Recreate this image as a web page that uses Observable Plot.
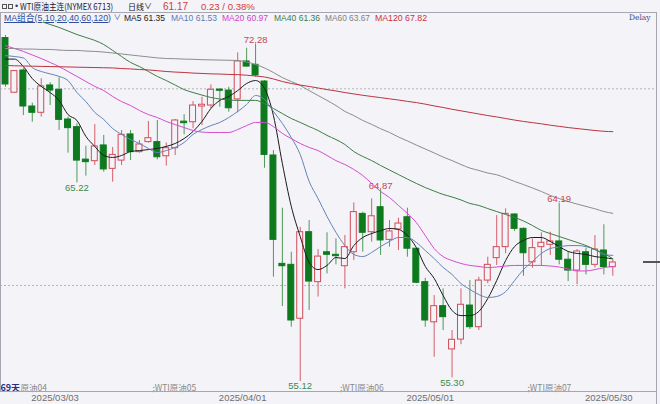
<!DOCTYPE html>
<html><head><meta charset="utf-8">
<script src="https://cdn.jsdelivr.net/npm/d3@7"></script>
<script src="https://cdn.jsdelivr.net/npm/@observablehq/plot@0.6"></script>
<style>
html,body{margin:0;padding:0;background:#f3f3f8;}
#wrap{position:relative;width:660px;height:404px;overflow:hidden;background:#f3f3f8;font-family:"Liberation Sans",Arial,"Noto Sans CJK SC",sans-serif;}
#wrap svg{position:absolute;left:0;top:0;}
.t{position:absolute;white-space:nowrap;line-height:10px;height:10px;}
</style></head><body><div id="wrap"></div>
<script>
// ---- data ----
const dates = ["2025/02/21","2025/02/24","2025/02/25","2025/02/26","2025/02/27","2025/02/28",
"2025/03/03","2025/03/04","2025/03/05","2025/03/06","2025/03/07","2025/03/10","2025/03/11","2025/03/12","2025/03/13","2025/03/14","2025/03/17","2025/03/18","2025/03/19","2025/03/20","2025/03/21","2025/03/24","2025/03/25","2025/03/26","2025/03/27","2025/03/28","2025/03/31",
"2025/04/01","2025/04/02","2025/04/03","2025/04/04","2025/04/07","2025/04/08","2025/04/09","2025/04/10","2025/04/11","2025/04/14","2025/04/15","2025/04/16","2025/04/17","2025/04/21","2025/04/22","2025/04/23","2025/04/24","2025/04/25","2025/04/28","2025/04/29","2025/04/30",
"2025/05/01","2025/05/02","2025/05/05","2025/05/06","2025/05/07","2025/05/08","2025/05/09","2025/05/12","2025/05/13","2025/05/14","2025/05/15","2025/05/16","2025/05/19","2025/05/20","2025/05/21","2025/05/22","2025/05/23","2025/05/27","2025/05/28","2025/05/29","2025/05/30"];

const open = [72.58,69.80,70.93,69.10,68.78,70.17,69.95,68.44,68.05,66.40,66.32,67.12,65.93,66.35,67.68,66.78,67.29,67.29,66.57,66.98,68.33,68.30,69.10,69.15,69.96,69.91,69.46,71.39,71.22,70.37,66.61,61.10,61.05,58.31,62.71,60.17,61.69,61.56,60.98,61.69,63.64,62.71,63.98,62.32,62.85,63.47,61.87,60.17,58.13,58.95,56.75,57.25,58.98,57.88,60.25,61.39,61.95,63.61,62.88,61.18,61.95,62.07,62.24,61.31,60.76,61.69,61.05,61.78,60.93];
const high = [72.71,70.93,71.02,69.27,70.51,70.31,70.56,68.56,68.22,67.08,68.18,67.63,67.02,67.88,67.88,67.37,68.34,68.39,67.25,68.44,68.68,69.35,69.57,70.20,70.00,70.08,71.83,72.06,72.28,70.42,66.86,63.93,61.69,62.96,63.30,61.83,62.68,62.37,62.54,64.20,63.73,64.41,64.87,63.30,63.42,63.93,61.90,60.37,59.49,59.83,57.71,59.83,60.25,60.42,61.44,63.56,63.90,63.64,62.93,62.37,62.68,62.71,64.19,61.69,61.83,61.90,62.54,63.09,61.27];
const low = [70.08,69.79,68.64,68.30,68.56,69.15,67.88,66.73,65.22,65.56,66.10,65.76,65.25,66.10,66.35,66.73,67.24,66.39,66.07,66.61,67.66,67.97,68.13,68.98,69.06,68.81,68.78,71.10,70.59,65.96,60.42,58.93,57.88,55.12,58.73,59.41,60.59,61.05,59.83,61.27,61.69,62.20,61.53,61.95,61.78,61.44,60.09,57.88,56.35,57.71,55.30,56.99,57.76,57.71,60.09,61.02,61.61,62.75,60.47,60.88,60.98,61.53,61.05,60.20,60.04,60.54,60.88,60.54,60.47];
const close = [70.22,70.90,69.10,68.78,70.12,69.91,68.42,68.00,66.35,66.27,67.07,65.90,66.64,67.66,66.78,67.17,67.49,66.52,66.98,68.39,68.25,69.15,69.19,69.95,69.90,69.01,71.39,71.13,70.68,66.64,62.32,60.98,58.22,62.71,60.20,61.47,61.56,61.49,61.95,63.73,62.68,63.52,62.29,62.75,63.15,61.87,60.14,58.22,58.95,58.39,57.24,59.02,57.88,60.25,61.05,61.95,63.64,62.88,61.64,61.90,62.17,62.24,61.31,60.76,61.73,61.05,61.83,60.94,61.17];

const ma5 = [71.51,71.51,71.13,70.52,70.12,69.81,69.41,68.69,68.39,67.58,67.07,66.61,66.51,66.61,66.81,66.86,66.91,66.97,67.07,67.22,67.47,67.83,68.34,69.00,69.41,69.61,69.91,70.27,70.42,70.02,68.64,66.20,64.02,62.49,61.17,60.81,61.02,61.42,61.37,62.03,62.44,62.64,62.79,62.90,62.85,62.54,61.93,60.97,60.36,59.49,58.73,58.47,58.47,58.68,59.34,60.25,61.27,61.98,62.29,62.44,62.44,62.24,61.98,61.73,61.63,61.58,61.47,61.42,61.35];
const ma10 = [71.69,71.64,71.57,71.08,70.88,70.76,70.63,70.42,69.81,69.35,68.80,68.44,67.98,67.68,67.42,67.22,66.97,66.76,66.86,67.02,67.27,67.68,67.93,68.13,68.29,68.54,68.85,69.20,69.66,69.46,68.85,68.24,67.52,66.66,65.29,64.42,63.51,62.70,62.03,61.58,61.47,61.68,61.98,62.24,62.44,62.44,62.19,61.78,61.37,60.92,60.56,60.10,59.80,59.54,59.39,59.44,59.69,60.25,60.81,61.22,61.63,61.88,61.96,62.03,62.03,61.98,61.83,61.58,61.53];
const ma20 = [72.20,72.05,71.90,71.72,71.54,71.34,71.13,70.88,70.63,70.37,70.12,69.91,69.61,69.35,69.15,68.90,68.69,68.54,68.34,68.18,68.03,67.88,67.80,67.78,67.78,67.78,67.93,68.13,68.29,68.29,68.08,67.73,67.47,67.22,67.02,66.86,66.61,66.35,66.15,65.90,65.59,65.19,64.78,64.47,64.07,63.66,63.20,62.54,61.88,61.47,61.27,61.12,61.02,60.97,60.91,60.94,60.99,61.02,61.02,61.02,61.02,60.99,60.94,60.84,60.74,60.74,60.81,60.91,60.97];
const ma40 = [74.08,73.93,73.78,73.60,73.42,73.27,73.12,72.94,72.76,72.61,72.46,72.25,71.95,71.64,71.34,71.13,70.88,70.63,70.42,70.19,69.96,69.81,69.68,69.56,69.48,69.43,69.41,69.41,69.41,69.25,69.00,68.74,68.49,68.29,68.08,67.88,67.63,67.42,67.17,66.81,66.56,66.35,66.10,65.87,65.64,65.41,65.19,64.98,64.80,64.63,64.50,64.35,64.17,64.07,63.91,63.76,63.61,63.46,63.28,63.05,62.80,62.64,62.49,62.34,62.19,62.03,61.83,61.63,61.36];
const ma60 = [72.05,72.05,72.02,72.02,72.00,72.00,71.97,71.95,71.95,71.92,71.90,71.87,71.82,71.77,71.72,71.67,71.62,71.57,71.54,71.53,71.51,71.50,71.48,71.47,71.46,71.45,71.44,71.36,71.24,71.06,70.83,70.57,70.37,70.17,69.91,69.66,69.41,69.15,68.85,68.64,68.39,68.19,67.97,67.78,67.55,67.35,67.14,66.94,66.74,66.53,66.35,66.15,65.97,65.85,65.72,65.63,65.47,65.29,65.13,64.96,64.78,64.58,64.42,64.27,64.14,64.02,63.90,63.76,63.67];
const ma120 = [71.19,71.17,71.16,71.15,71.14,71.13,71.12,71.11,71.10,71.09,71.08,71.07,71.06,71.03,71.01,70.98,70.96,70.92,70.88,70.85,70.83,70.80,70.78,70.76,70.75,70.73,70.72,70.69,70.65,70.60,70.50,70.37,70.27,70.19,70.12,70.04,69.96,69.89,69.81,69.74,69.67,69.61,69.55,69.49,69.43,69.36,69.30,69.22,69.13,69.05,68.96,68.88,68.80,68.72,68.64,68.57,68.49,68.41,68.34,68.28,68.22,68.15,68.09,68.03,67.98,67.93,67.88,67.84,67.82];

const tickDates = ["2025/03/03","2025/04/01","2025/05/01","2025/05/30"];
const extremeDates = ["2025/03/05","2025/04/02","2025/04/09","2025/04/23","2025/05/05","2025/05/21"];
const extremeKinds = ["low","high","low","high","low","high"];
const rollDates = ["2025/03/17","2025/04/15","2025/05/15"];
const rollLabels = [";WTI原油05",";WTI原油06",";WTI原油07"];
const maNames = ["MA5","MA10","MA20","MA40","MA60","MA120"];
const maColors = ["#1c1c1c","#6683b6","#d64ccf","#3f7d45","#8d8d8d","#bb3440"];

// ---- build ----
const BG = "#f3f3f8", RED = "#d24b58", REDW = "#d55f69", GREEN = "#0e7a1e", GREENW = "#4e9a56";
const maArrays = [ma5, ma10, ma20, ma40, ma60, ma120];
const rows = dates.map((d, i) => ({date: d, open: open[i], high: high[i], low: low[i], close: close[i], up: close[i] >= open[i]}));
const maRows = maNames.map((name, k) => dates.map((d, i) => ({date: d, v: maArrays[k][i]})));
const extremes = extremeDates.map((d, k) => {
  const i = dates.indexOf(d);
  const kind = extremeKinds[k];
  return {date: d, kind, price: kind === "high" ? high[i] : low[i]};
});
const rolls = rollDates.map((d, k) => ({date: d, label: rollLabels[k]}));

const plot = Plot.plot({
  width: 660, height: 404,
  marginTop: 12, marginBottom: 13, marginLeft: 0, marginRight: 4,
  style: {background: BG, fontFamily: "Liberation Sans, Arial, Noto Sans CJK SC, sans-serif", overflow: "visible"},
  x: {type: "band", domain: dates, range: [0.535, 616.77], paddingInner: 0.22, paddingOuter: 0.11, align: 0.5, label: null},
  y: {domain: [54.611, 73.879], axis: null},
  color: {type: "identity"},
  marks: [
    Plot.ruleY([60, 70], {stroke: "#b4b4bf", strokeDasharray: "2,2", strokeWidth: 1}),
    Plot.ruleX(rows, {x: "date", y1: "low", y2: "high", stroke: d => d.up ? REDW : GREENW, strokeWidth: 1}),
    Plot.barY(rows, {x: "date", y1: d => Math.min(d.open, d.close), y2: d => Math.max(d.open, d.close),
      fill: d => d.up ? BG : GREEN, stroke: d => d.up ? RED : GREEN, strokeWidth: 1, insetLeft: 0.5, insetRight: 0.5}),
    ...maRows.map((data, k) => Plot.line(data, {x: "date", y: "v", stroke: maColors[k], strokeWidth: 1, curve: "monotone-x", clip: true})),
    Plot.text(extremes.filter(d => d.kind === "high"), {x: "date", y: "price", text: d => d.price.toFixed(2), lineAnchor: "bottom", dy: -1, fill: "#cc4452", fontSize: 9.5}),
    Plot.text(extremes.filter(d => d.kind === "low"), {x: "date", y: "price", text: d => d.price.toFixed(2), lineAnchor: "top", dy: 1, fill: "#3d8a4a", fontSize: 9.5}),
    Plot.text(rolls, {x: "date", text: "label", frameAnchor: "bottom", textAnchor: "start", lineAnchor: "bottom", dx: 4, dy: -1, fontSize: 8.5, fill: "#8a8a8a", fontFamily: "Noto Sans CJK SC, sans-serif"}),
    Plot.text(["69天"], {text: d => d, frameAnchor: "bottom-left", textAnchor: "start", lineAnchor: "bottom", dx: 0, dy: -1, fontSize: 9, fontWeight: "bold", fill: "#2b2f7a", fontFamily: "Noto Sans CJK SC, sans-serif"}),
    Plot.text(["原油04"], {text: d => d, frameAnchor: "bottom-left", textAnchor: "start", lineAnchor: "bottom", dx: 20, dy: -1, fontSize: 8.5, fill: "#8a8a8a", fontFamily: "Noto Sans CJK SC, sans-serif"}),
    Plot.axisX({ticks: tickDates, tickSize: 0, tickPadding: 3, dx: -4, fontSize: 9.5, color: "#6e6e6e", label: null}),
    Plot.frame({stroke: "#a6a6b0"})
  ]
});
const wrap = document.getElementById("wrap");
wrap.appendChild(plot);

// ---- header overlays ----
const last = dates.length - 1;
const chg = close[last] - close[last - 1];
function put(html, left, top, css, fitWidth) {
  const s = document.createElement("div");
  s.className = "t";
  s.style.left = left + "px"; s.style.top = top + "px";
  s.style.cssText += css || "";
  s.innerHTML = html;
  wrap.appendChild(s);
  if (fitWidth) {
    const w = s.getBoundingClientRect().width;
    if (w > 0) { s.style.transformOrigin = "0 50%"; s.style.transform = "scaleX(" + (fitWidth / w) + ")"; }
  }
  return s;
}
const strip = document.createElement("div");
strip.style.cssText = "position:absolute;left:1px;top:13px;width:654px;height:9px;background:" + BG;
wrap.appendChild(strip);
// row 1
put("", 2, 3.5, "width:3px;height:3px;border:1px solid #555;");
put("", 8, 3.5, "width:3px;height:3px;border:1px solid #555;");
put("•", 15, 1, "font-size:9px;color:#2b3a7a;");
put("WTI原油主连(NYMEX 6713)", 20, 1.5, "font-size:8.8px;color:#1e2233;font-family:'Noto Sans CJK SC',sans-serif;", 93);
put("日线", 128, 1.5, "font-size:8px;color:#111;font-family:'Noto Sans CJK SC',sans-serif;");
put("∨", 144, 1.5, "font-size:8px;color:#222;");
put(close[last].toFixed(2), 163, 1.5, "font-size:10px;color:#d23a3f;");
put(chg.toFixed(2) + " / " + (chg / close[last - 1] * 100).toFixed(2) + "%", 201, 1.5, "font-size:9.6px;color:#d23a3f;");
// row 2 : MA legend
put("MA组合(5,10,20,40,60,120)", 4, 12.5, "font-size:9px;color:#2d4f9e;text-decoration:underline;", 107);
put("∨", 113.5, 12.5, "font-size:7.5px;color:#2d4f9e;");
const legX = [124, 171, 222, 274, 325, 375];
const legW = [41, 46, 46, 46, 45, 52];
const legC = ["#1c1c1c", "#5b7cb6", "#d23fcb", "#3d7d3d", "#808080", "#c8323c"];
maNames.forEach((n, k) => put(n + " " + maArrays[k][last].toFixed(2), legX[k], 12.5, "font-size:9.5px;color:" + legC[k] + ";", legW[k]));
put("Delay", 629, 13, "font-size:7.5px;color:#3b4a86;font-family:'DejaVu Serif',serif;");
const vb = document.createElement("div");
vb.style.cssText = "position:absolute;left:655.5px;top:391px;width:1px;height:13px;background:#a6a6b0";
wrap.appendChild(vb);
const yLast = plot.scale("y").apply(close[last]);
const mk = document.createElement("div");
mk.style.cssText = "position:absolute;left:643px;width:17px;height:1.5px;background:#555;top:" + (yLast - 0.5) + "px";
wrap.appendChild(mk);
</script>
</body></html>
